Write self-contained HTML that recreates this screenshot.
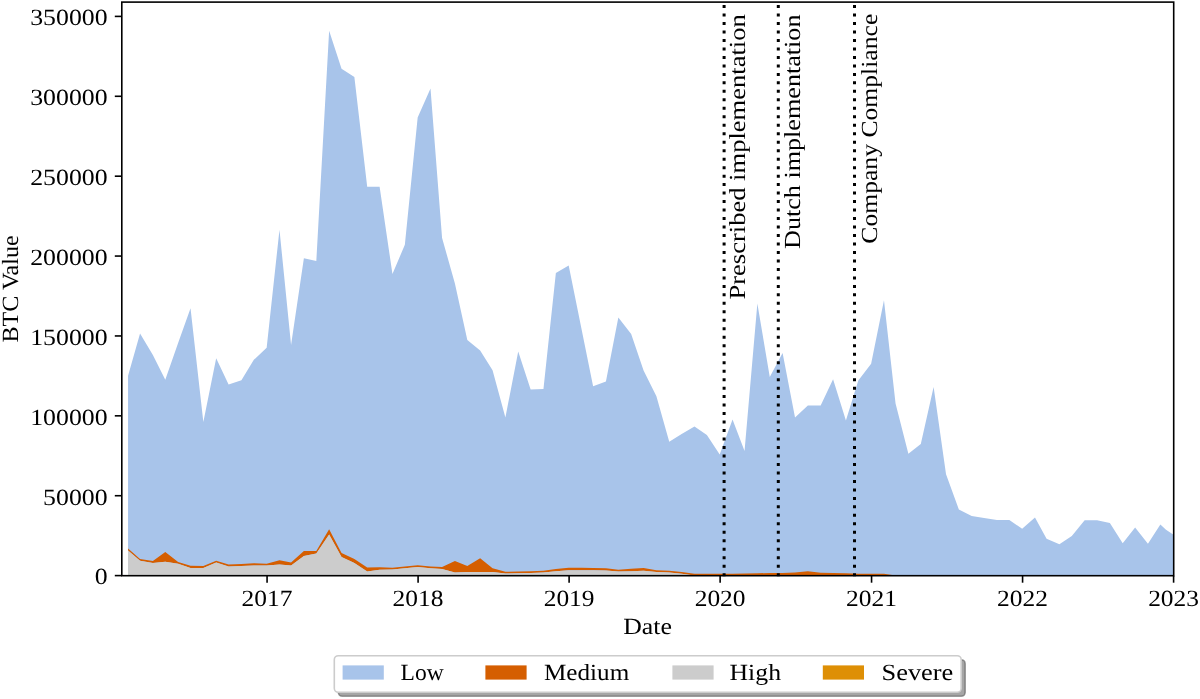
<!DOCTYPE html>
<html><head><meta charset="utf-8"><title>BTC Value by Severity</title>
<style>html,body{margin:0;padding:0;background:#fff;width:1200px;height:699px;overflow:hidden}svg{display:block;will-change:transform}text{font-family:"Liberation Serif",serif;fill:#000;text-rendering:geometricPrecision}</style>
</head><body>
<svg width="1200" height="699" viewBox="0 0 1200 699">
<rect width="1200" height="699" fill="#fff"/>
<defs><clipPath id="ax"><rect x="121.8" y="2.1" width="1051.9" height="573.6"/></clipPath></defs>
<g clip-path="url(#ax)">
<polygon points="128.05,575.60 128.05,375.80 140.05,333.60 152.88,355.00 165.29,379.70 178.11,343.00 190.53,308.30 203.35,422.00 216.18,358.30 228.59,384.50 241.42,380.20 253.83,359.80 266.66,347.80 279.48,229.70 291.07,345.00 303.89,258.30 316.31,261.00 329.13,30.80 341.54,68.80 354.37,77.00 367.20,186.70 379.61,186.70 392.44,274.00 404.85,244.80 417.67,117.60 430.50,88.40 442.09,238.00 454.91,283.50 467.32,340.10 480.15,350.60 492.56,370.20 505.39,417.60 518.22,351.50 530.63,389.40 543.45,389.10 555.87,272.90 568.69,265.60 581.52,329.00 593.11,386.20 605.93,381.60 618.34,317.50 631.17,334.10 643.58,370.60 656.41,396.20 669.24,441.70 681.65,433.90 694.47,426.60 706.89,435.10 719.71,454.50 732.54,419.40 744.54,451.10 757.36,303.40 769.78,377.10 782.60,353.10 795.02,417.60 807.84,405.50 820.67,405.50 833.08,379.20 845.91,420.50 858.32,380.50 871.14,363.80 883.97,300.30 895.56,403.50 908.38,453.80 920.80,443.90 933.62,387.00 946.03,474.20 958.86,509.50 971.69,515.90 984.10,518.00 996.92,520.10 1009.34,520.10 1022.16,528.70 1034.99,517.40 1046.58,538.80 1059.40,544.30 1071.81,536.10 1084.64,520.20 1097.05,520.30 1109.88,523.00 1122.70,543.30 1135.12,527.60 1147.94,543.80 1160.36,524.40 1166.00,529.70 1173.18,534.50 1173.18,575.60" fill="#a8c4ea"/>
<polygon points="128.05,548.60 140.05,559.00 152.88,561.10 165.29,552.10 178.11,561.95 190.53,565.80 203.35,566.10 216.18,560.70 228.59,564.60 241.42,564.10 253.83,563.30 266.66,563.70 279.48,560.30 291.07,562.50 303.89,550.90 316.31,550.90 329.13,529.30 341.54,553.00 354.37,559.10 367.20,567.60 379.61,567.20 392.44,567.80 404.85,566.50 417.67,565.20 430.50,566.50 442.09,567.00 454.91,561.00 467.32,565.90 480.15,558.20 492.56,568.20 505.39,571.80 518.22,571.40 530.63,571.20 543.45,570.70 555.87,568.90 568.69,567.70 581.52,567.75 593.11,567.90 605.93,568.20 618.34,569.70 631.17,568.75 643.58,567.90 656.41,570.20 669.24,570.70 681.65,571.95 694.47,573.75 706.89,573.75 719.71,573.75 732.54,573.75 744.54,573.60 757.36,573.20 769.78,573.00 782.60,572.90 795.02,572.60 807.84,571.20 820.67,572.80 833.08,573.00 845.91,573.30 858.32,573.80 871.14,573.80 883.97,573.80 895.56,575.60 908.38,575.60 920.80,575.60 933.62,575.60 946.03,575.60 958.86,575.60 971.69,575.60 984.10,575.60 996.92,575.60 1009.34,575.60 1022.16,575.60 1034.99,575.60 1046.58,575.60 1059.40,575.60 1071.81,575.60 1084.64,575.60 1097.05,575.60 1109.88,575.60 1122.70,575.60 1135.12,575.60 1147.94,575.60 1160.36,575.60 1173.18,575.60 1173.18,575.60 1160.36,575.60 1147.94,575.60 1135.12,575.60 1122.70,575.60 1109.88,575.60 1097.05,575.60 1084.64,575.60 1071.81,575.60 1059.40,575.60 1046.58,575.60 1034.99,575.60 1022.16,575.60 1009.34,575.60 996.92,575.60 984.10,575.60 971.69,575.60 958.86,575.60 946.03,575.60 933.62,575.60 920.80,575.60 908.38,575.60 895.56,575.60 883.97,575.60 871.14,575.60 858.32,575.60 845.91,575.60 833.08,575.60 820.67,575.60 807.84,575.60 795.02,575.60 782.60,575.60 769.78,575.60 757.36,575.60 744.54,575.60 732.54,575.60 719.71,575.60 706.89,575.60 694.47,575.60 681.65,573.75 669.24,572.50 656.41,572.10 643.58,570.80 631.17,571.25 618.34,571.50 605.93,570.40 593.11,570.20 581.52,570.20 568.69,570.20 555.87,571.30 543.45,572.50 530.63,573.00 518.22,573.20 505.39,573.60 492.56,571.90 480.15,571.90 467.32,571.90 454.91,572.40 442.09,568.90 430.50,568.30 417.67,567.00 404.85,568.30 392.44,569.60 379.61,569.80 367.20,571.50 354.37,562.90 341.54,556.90 329.13,534.60 316.31,553.50 303.89,556.10 291.07,565.50 279.48,564.60 266.66,565.50 253.83,565.50 241.42,565.90 228.59,566.40 216.18,562.50 203.35,567.90 190.53,567.90 178.11,563.75 165.29,561.70 152.88,562.90 140.05,560.80 128.05,550.40" fill="#d55e00"/>
<polygon points="128.05,575.60 128.05,550.40 140.05,560.80 152.88,562.90 165.29,561.70 178.11,563.75 190.53,567.90 203.35,567.90 216.18,562.50 228.59,566.40 241.42,565.90 253.83,565.50 266.66,565.50 279.48,564.60 291.07,565.50 303.89,556.10 316.31,553.50 329.13,534.60 341.54,556.90 354.37,562.90 367.20,571.50 379.61,569.80 392.44,569.60 404.85,568.30 417.67,567.00 430.50,568.30 442.09,568.90 454.91,572.40 467.32,571.90 480.15,571.90 492.56,571.90 505.39,573.60 518.22,573.20 530.63,573.00 543.45,572.50 555.87,571.30 568.69,570.20 581.52,570.20 593.11,570.20 605.93,570.40 618.34,571.50 631.17,571.25 643.58,570.80 656.41,572.10 669.24,572.50 681.65,573.75 694.47,575.60 706.89,575.60 719.71,575.60 732.54,575.60 744.54,575.60 757.36,575.60 769.78,575.60 782.60,575.60 795.02,575.60 807.84,575.60 820.67,575.60 833.08,575.60 845.91,575.60 858.32,575.60 871.14,575.60 883.97,575.60 895.56,575.60 908.38,575.60 920.80,575.60 933.62,575.60 946.03,575.60 958.86,575.60 971.69,575.60 984.10,575.60 996.92,575.60 1009.34,575.60 1022.16,575.60 1034.99,575.60 1046.58,575.60 1059.40,575.60 1071.81,575.60 1084.64,575.60 1097.05,575.60 1109.88,575.60 1122.70,575.60 1135.12,575.60 1147.94,575.60 1160.36,575.60 1173.18,575.60 1173.18,575.60" fill="#cccccc"/>
</g>
<line x1="724.1" y1="576.2" x2="724.1" y2="2.1" stroke="#000" stroke-width="3" stroke-dasharray="3 5.48"/>
<line x1="778.3" y1="576.2" x2="778.3" y2="2.1" stroke="#000" stroke-width="3" stroke-dasharray="3 5.48"/>
<line x1="854.5" y1="576.2" x2="854.5" y2="2.1" stroke="#000" stroke-width="3" stroke-dasharray="3 5.48"/>
<rect x="121.8" y="2.1" width="1051.90" height="573.60" fill="none" stroke="#000" stroke-width="1.6"/>
<text x="267.07" y="605.90" font-size="23.2" text-anchor="middle" textLength="50.90" lengthAdjust="spacingAndGlyphs">2017</text>
<text x="418.09" y="605.90" font-size="23.2" text-anchor="middle" textLength="50.90" lengthAdjust="spacingAndGlyphs">2018</text>
<text x="569.11" y="605.90" font-size="23.2" text-anchor="middle" textLength="50.90" lengthAdjust="spacingAndGlyphs">2019</text>
<text x="720.13" y="605.90" font-size="23.2" text-anchor="middle" textLength="50.90" lengthAdjust="spacingAndGlyphs">2020</text>
<text x="871.56" y="605.90" font-size="23.2" text-anchor="middle" textLength="50.90" lengthAdjust="spacingAndGlyphs">2021</text>
<text x="1022.58" y="605.90" font-size="23.2" text-anchor="middle" textLength="50.90" lengthAdjust="spacingAndGlyphs">2022</text>
<text x="1173.60" y="605.90" font-size="23.2" text-anchor="middle" textLength="50.90" lengthAdjust="spacingAndGlyphs">2023</text>
<text x="107.60" y="584.40" font-size="23.2" text-anchor="end" textLength="12.90" lengthAdjust="spacingAndGlyphs">0</text>
<text x="107.60" y="504.52" font-size="23.2" text-anchor="end" textLength="64.50" lengthAdjust="spacingAndGlyphs">50000</text>
<text x="107.60" y="424.63" font-size="23.2" text-anchor="end" textLength="77.40" lengthAdjust="spacingAndGlyphs">100000</text>
<text x="107.60" y="344.75" font-size="23.2" text-anchor="end" textLength="77.40" lengthAdjust="spacingAndGlyphs">150000</text>
<text x="107.60" y="264.86" font-size="23.2" text-anchor="end" textLength="77.40" lengthAdjust="spacingAndGlyphs">200000</text>
<text x="107.60" y="184.98" font-size="23.2" text-anchor="end" textLength="77.40" lengthAdjust="spacingAndGlyphs">250000</text>
<text x="107.60" y="105.09" font-size="23.2" text-anchor="end" textLength="77.40" lengthAdjust="spacingAndGlyphs">300000</text>
<text x="107.60" y="25.20" font-size="23.2" text-anchor="end" textLength="77.40" lengthAdjust="spacingAndGlyphs">350000</text>
<line x1="267.07" y1="575.7" x2="267.07" y2="582.7" stroke="#000" stroke-width="1.6"/><line x1="418.09" y1="575.7" x2="418.09" y2="582.7" stroke="#000" stroke-width="1.6"/><line x1="569.11" y1="575.7" x2="569.11" y2="582.7" stroke="#000" stroke-width="1.6"/><line x1="720.13" y1="575.7" x2="720.13" y2="582.7" stroke="#000" stroke-width="1.6"/><line x1="871.56" y1="575.7" x2="871.56" y2="582.7" stroke="#000" stroke-width="1.6"/><line x1="1022.58" y1="575.7" x2="1022.58" y2="582.7" stroke="#000" stroke-width="1.6"/><line x1="1173.60" y1="575.7" x2="1173.60" y2="582.7" stroke="#000" stroke-width="1.6"/><line x1="114.8" y1="575.60" x2="121.8" y2="575.60" stroke="#000" stroke-width="1.6"/><line x1="114.8" y1="495.72" x2="121.8" y2="495.72" stroke="#000" stroke-width="1.6"/><line x1="114.8" y1="415.83" x2="121.8" y2="415.83" stroke="#000" stroke-width="1.6"/><line x1="114.8" y1="335.95" x2="121.8" y2="335.95" stroke="#000" stroke-width="1.6"/><line x1="114.8" y1="256.06" x2="121.8" y2="256.06" stroke="#000" stroke-width="1.6"/><line x1="114.8" y1="176.18" x2="121.8" y2="176.18" stroke="#000" stroke-width="1.6"/><line x1="114.8" y1="96.29" x2="121.8" y2="96.29" stroke="#000" stroke-width="1.6"/><line x1="114.8" y1="16.40" x2="121.8" y2="16.40" stroke="#000" stroke-width="1.6"/>
<text x="647.60" y="633.50" font-size="23.2" text-anchor="middle" textLength="48.80" lengthAdjust="spacingAndGlyphs">Date</text>
<g transform="translate(18.4,288.9) rotate(-90)"><text x="0.00" y="0.00" font-size="23.2" text-anchor="middle" textLength="107.30" lengthAdjust="spacingAndGlyphs">BTC Value</text></g>
<g transform="translate(745.1,299.6) rotate(-90)"><text x="0.00" y="0.00" font-size="23.0" text-anchor="start" textLength="285.40" lengthAdjust="spacingAndGlyphs">Prescribed implementation</text></g>
<g transform="translate(800.1,249.0) rotate(-90)"><text x="0.00" y="0.00" font-size="23.0" text-anchor="start" textLength="234.50" lengthAdjust="spacingAndGlyphs">Dutch implementation</text></g>
<g transform="translate(877.0,243.7) rotate(-90)"><text x="0.00" y="0.00" font-size="23.0" text-anchor="start" textLength="230.00" lengthAdjust="spacingAndGlyphs">Company Compliance</text></g>
<rect x="338.3" y="659.7" width="626.90" height="36.60" rx="4" fill="#4d4d4d" fill-opacity="0.5" stroke="#4d4d4d" stroke-opacity="0.5" stroke-width="1.6"/>
<rect x="334.3" y="655.7" width="626.90" height="36.60" rx="4" fill="#fff" stroke="#cccccc" stroke-width="1.6"/>
<rect x="342.6" y="665.4" width="41.2" height="14.2" fill="#a8c4ea"/>
<text x="400.50" y="680.30" font-size="23.2" text-anchor="start" textLength="43.20" lengthAdjust="spacingAndGlyphs">Low</text>
<rect x="485.4" y="665.4" width="41.2" height="14.2" fill="#d55e00"/>
<text x="544.00" y="680.30" font-size="23.2" text-anchor="start" textLength="85.20" lengthAdjust="spacingAndGlyphs">Medium</text>
<rect x="672.4" y="665.4" width="41.2" height="14.2" fill="#cccccc"/>
<text x="729.50" y="680.30" font-size="23.2" text-anchor="start" textLength="51.50" lengthAdjust="spacingAndGlyphs">High</text>
<rect x="822.8" y="665.4" width="41.2" height="14.2" fill="#de8f05"/>
<text x="881.50" y="680.30" font-size="23.2" text-anchor="start" textLength="71.80" lengthAdjust="spacingAndGlyphs">Severe</text>
</svg>
</body></html>
